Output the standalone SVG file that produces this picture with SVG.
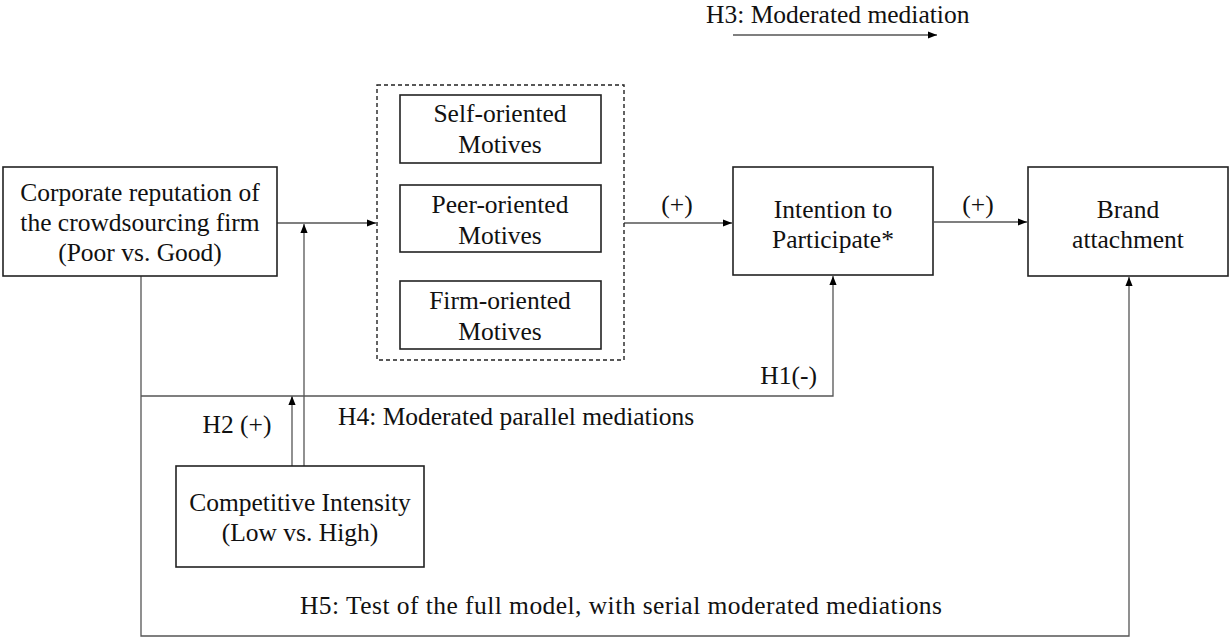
<svg xmlns="http://www.w3.org/2000/svg" width="1230" height="639" viewBox="0 0 1230 639">
<defs>
<marker id="arr" viewBox="0 0 10 10" refX="10" refY="5" markerWidth="9" markerHeight="9" markerUnits="userSpaceOnUse" orient="auto">
<path d="M0,1 L10,5 L0,9 z" fill="#000"/>
</marker>
<style>
.box{fill:#fff;stroke:#222;stroke-width:1.6}
.dash{fill:none;stroke:#222;stroke-width:1.4;stroke-dasharray:4,3}
.t{font-family:"Liberation Serif","Times New Roman",serif;font-size:25.5px;fill:#111}
.c{text-anchor:middle}
.ln{fill:none;stroke:#555;stroke-width:1.3}
</style>
</defs>
<rect width="1230" height="639" fill="#fff"/>
<g id="connectors">
<path class="ln" d="M277,223 H376" marker-end="url(#arr)"/>
<path class="ln" d="M304,466 V224" marker-end="url(#arr)"/>
<path class="ln" d="M292,466 V396" marker-end="url(#arr)"/>
<path class="ln" d="M141,276 V636 H1129 V277" marker-end="url(#arr)"/>
<path class="ln" d="M141,396 H833 V276" marker-end="url(#arr)"/>
<path class="ln" d="M624,223 H732" marker-end="url(#arr)"/>
<path class="ln" d="M934,222 H1027" marker-end="url(#arr)"/>
<path class="ln" d="M733,35 H937" marker-end="url(#arr)"/>
<text class="t" x="706" y="23">H3: Moderated mediation</text>
<text class="t c" x="677" y="213">(+)</text>
<text class="t c" x="978" y="213">(+)</text>
<text class="t" x="817" y="384" text-anchor="end">H1(-)</text>
<text class="t c" x="237" y="433">H2 (+)</text>
<text class="t" x="338" y="425">H4: Moderated parallel mediations</text>
<text class="t" x="300" y="614" textLength="642" lengthAdjust="spacing">H5: Test of the full model, with serial moderated mediations</text>
</g>
<g id="corporate">
<rect class="box" x="3" y="167" width="274" height="109"/>
<text class="t c" x="140" y="201">Corporate reputation of</text>
<text class="t c" x="140" y="231">the crowdsourcing firm</text>
<text class="t c" x="140" y="261">(Poor vs. Good)</text>
</g>
<g id="motives">
<rect class="dash" x="377" y="85" width="247" height="275"/>
</g>
<g id="self">
<rect class="box" x="400" y="95" width="201" height="68"/>
<text class="t c" x="500" y="122">Self-oriented</text>
<text class="t c" x="500" y="153">Motives</text>
</g>
<g id="peer">
<rect class="box" x="400" y="185" width="201" height="67"/>
<text class="t c" x="500" y="213">Peer-oriented</text>
<text class="t c" x="500" y="244">Motives</text>
</g>
<g id="firm">
<rect class="box" x="400" y="281" width="201" height="68"/>
<text class="t c" x="500" y="309">Firm-oriented</text>
<text class="t c" x="500" y="340">Motives</text>
</g>
<g id="intention">
<rect class="box" x="733" y="167" width="200" height="108"/>
<text class="t c" x="833" y="218">Intention to</text>
<text class="t c" x="833" y="248">Participate*</text>
</g>
<g id="brand">
<rect class="box" x="1028" y="167" width="200" height="109"/>
<text class="t c" x="1128" y="218">Brand</text>
<text class="t c" x="1128" y="248">attachment</text>
</g>
<g id="competitive">
<rect class="box" x="176" y="466" width="248" height="101"/>
<text class="t c" x="300" y="511">Competitive Intensity</text>
<text class="t c" x="300" y="541">(Low vs. High)</text>
</g>
</svg>
